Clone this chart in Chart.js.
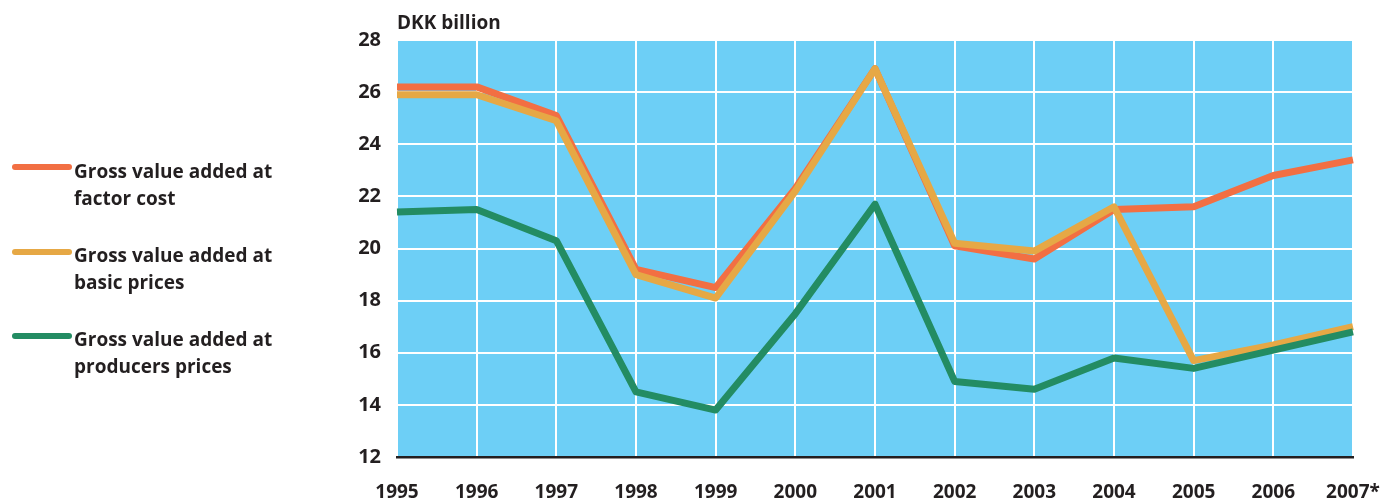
<!DOCTYPE html>
<html>
<head>
<meta charset="utf-8">
<script src="https://cdn.jsdelivr.net/npm/chart.js@4.4.1/dist/chart.umd.min.js"></script>
<style>
  html, body { margin: 0; padding: 0; background: #fff; }
  body { width: 1382px; height: 502px; position: relative; overflow: hidden; font-family: "Open Sans", "Noto Sans", sans-serif; color: #231f20; }
  #wrap { position: absolute; left: 0; top: 0; width: 1382px; height: 502px; }
  .leg-swatch { position: absolute; left: 12px; width: 60px; height: 6px; border-radius: 3px; }
  .leg-text { position: absolute; left: 74px; font-weight: 700; font-size: 19px; line-height: 26.5px; white-space: nowrap; }
</style>
</head>
<body>
<div id="wrap"><canvas id="chart" width="1382" height="502"></canvas></div>
<div id="legend"></div>
<script>
var years = ["1995", "1996", "1997", "1998", "1999", "2000", "2001", "2002", "2003", "2004", "2005", "2006", "2007*"];
var factorCost = [26.2, 26.2, 25.1, 19.2, 18.5, 22.3, 26.9, 20.1, 19.6, 21.5, 21.6, 22.8, 23.4];
var basicPrices = [25.9, 25.9, 24.9, 19.0, 18.1, 22.2, 26.9, 20.2, 19.9, 21.6, 15.7, 16.3, 17.0];
var producersPrices = [21.4, 21.5, 20.3, 14.5, 13.8, 17.5, 21.7, 14.9, 14.6, 15.8, 15.4, 16.1, 16.8];
var seriesNames = [["Gross value added at", "factor cost"], ["Gross value added at", "basic prices"], ["Gross value added at", "producers prices"]];
var seriesColors = ["#f26f43", "#e6a845", "#238c63"];
var unitLabel = "DKK billion";

var plotBackground = {
  id: "plotBackground",
  beforeDraw: function (chart) {
    var a = chart.chartArea, ctx = chart.ctx;
    ctx.save();
    ctx.fillStyle = "#6dcff6";
    ctx.fillRect(a.left, a.top, a.right - a.left, a.bottom - a.top);
    ctx.restore();
  },
  afterDraw: function (chart) {
    var a = chart.chartArea, ctx = chart.ctx;
    ctx.save();
    ctx.fillStyle = "#231f20";
    ctx.font = "bold 19px 'Open Sans', 'Noto Sans', sans-serif";
    ctx.textBaseline = "middle";
    ctx.fillText(unitLabel, a.left, 24);
    ctx.restore();
  }
};

function makeDataset(i, data, order) {
  return {
    label: seriesNames[i].join(" "),
    data: data,
    borderColor: seriesColors[i],
    backgroundColor: seriesColors[i],
    borderWidth: 7,
    pointRadius: 0,
    tension: 0,
    borderJoinStyle: "round",
    order: order
  };
}

var tickFont = { family: "'Open Sans', 'Noto Sans', sans-serif", size: 19, weight: "bold" };

new Chart(document.getElementById("chart"), {
  type: "line",
  data: {
    labels: years,
    datasets: [
      makeDataset(0, factorCost, 2),
      makeDataset(1, basicPrices, 1),
      makeDataset(2, producersPrices, 0)
    ]
  },
  options: {
    responsive: false,
    animation: false,
    layout: { padding: { left: 330, top: 40, right: 29, bottom: 0 } },
    plugins: { legend: { display: false }, tooltip: { enabled: false } },
    scales: {
      x: {
        offset: false,
        afterFit: function (s) { s.height = 45; s.paddingLeft = 0; s.paddingRight = 0; },
        grid: { color: "#ffffff", lineWidth: 2, drawTicks: false },
        border: { color: "#231f20", width: 2.5 },
        ticks: { color: "#231f20", padding: 24, maxRotation: 0, autoSkip: false, font: tickFont }
      },
      y: {
        min: 12,
        max: 28,
        afterFit: function (s) { s.width = 67; s.paddingTop = 0; s.paddingBottom = 0; },
        grid: { color: "#ffffff", lineWidth: 2, drawTicks: false },
        border: { display: false },
        ticks: { stepSize: 2, color: "#231f20", padding: 16, font: { family: tickFont.family, size: 20, weight: "bold" } }
      }
    }
  },
  plugins: [plotBackground]
});

var legendTops = [158, 242, 326];
var swatchTops = [164, 249, 333];
var legend = document.getElementById("legend");
seriesNames.forEach(function (lines, i) {
  var sw = document.createElement("div");
  sw.className = "leg-swatch";
  sw.style.top = swatchTops[i] + "px";
  sw.style.background = seriesColors[i];
  legend.appendChild(sw);
  var tx = document.createElement("div");
  tx.className = "leg-text";
  tx.style.top = legendTops[i] + "px";
  tx.innerHTML = lines.join("<br>");
  legend.appendChild(tx);
});
</script>
</body>
</html>
